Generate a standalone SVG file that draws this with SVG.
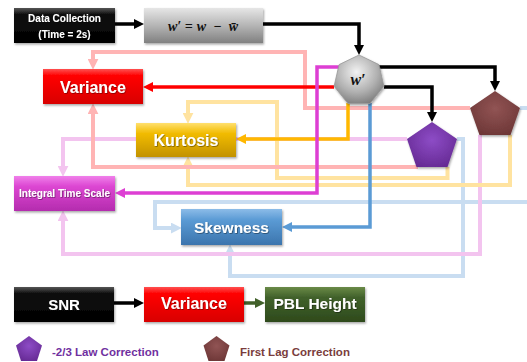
<svg xmlns="http://www.w3.org/2000/svg" width="527" height="362" viewBox="0 0 527 362">
<defs>
<style>
.lt{fill:none;stroke-width:4;stroke-linejoin:miter}
.mn{fill:none;stroke-width:3.5;stroke-linejoin:miter}
.bx{stroke:none;filter:url(#sh)}
.t{font-family:"Liberation Sans",Arial,sans-serif;font-weight:bold;fill:#fff;text-anchor:middle}
.big{font-size:16px}
.sm{font-size:10px}
.math{font-family:"Liberation Serif","DejaVu Serif",serif;font-style:italic;font-weight:bold;fill:#111;text-anchor:middle}
.lg{font-family:"Liberation Sans",Arial,sans-serif;font-weight:bold;font-size:11.5px}
</style>
<filter id="sh" x="-10%" y="-20%" width="125%" height="150%"><feDropShadow dx="1" dy="1.5" stdDeviation="1" flood-color="#000" flood-opacity="0.35"/></filter>
<filter id="ts" x="-10%" y="-20%" width="120%" height="150%"><feDropShadow dx="0.7" dy="0.7" stdDeviation="0.4" flood-color="#000" flood-opacity="0.5"/></filter>
<linearGradient id="gBlack" x1="0" y1="0" x2="0" y2="1"><stop offset="0" stop-color="#555"/><stop offset="0.18" stop-color="#111"/><stop offset="1" stop-color="#000"/></linearGradient>
<linearGradient id="gGray" x1="0" y1="0" x2="0" y2="1"><stop offset="0" stop-color="#e6e6e6"/><stop offset="0.5" stop-color="#b5b5b5"/><stop offset="1" stop-color="#808080"/></linearGradient>
<linearGradient id="gRed" x1="0" y1="0" x2="0" y2="1"><stop offset="0" stop-color="#ff5050"/><stop offset="0.2" stop-color="#ff0000"/><stop offset="1" stop-color="#d80000"/></linearGradient>
<linearGradient id="gGold" x1="0" y1="0" x2="0" y2="1"><stop offset="0" stop-color="#ffe070"/><stop offset="0.3" stop-color="#f2bc00"/><stop offset="1" stop-color="#c29200"/></linearGradient>
<linearGradient id="gMag" x1="0" y1="0" x2="0" y2="1"><stop offset="0" stop-color="#f080ea"/><stop offset="0.3" stop-color="#dc46d2"/><stop offset="1" stop-color="#b42cae"/></linearGradient>
<linearGradient id="gBlue" x1="0" y1="0" x2="0" y2="1"><stop offset="0" stop-color="#8cbce8"/><stop offset="0.3" stop-color="#5b9bd5"/><stop offset="1" stop-color="#3b75ad"/></linearGradient>
<linearGradient id="gGreen" x1="0" y1="0" x2="0" y2="1"><stop offset="0" stop-color="#6a8a48"/><stop offset="0.3" stop-color="#41612a"/><stop offset="1" stop-color="#2e4a1c"/></linearGradient>
<radialGradient id="gHept" cx="0.45" cy="0.35" r="0.7"><stop offset="0" stop-color="#f2f2f2"/><stop offset="0.6" stop-color="#b0b0b0"/><stop offset="1" stop-color="#7a7a7a"/></radialGradient>
<radialGradient id="gPur" cx="0.5" cy="0.4" r="0.7"><stop offset="0" stop-color="#8d4cc6"/><stop offset="1" stop-color="#62278f"/></radialGradient>
<radialGradient id="gBrn" cx="0.5" cy="0.4" r="0.7"><stop offset="0" stop-color="#915454"/><stop offset="1" stop-color="#6a3434"/></radialGradient>
<marker id="aK" viewBox="0 0 10 10" refX="2" refY="5" markerWidth="10" markerHeight="10" markerUnits="userSpaceOnUse" orient="auto"><path d="M0,0 L10,5 L0,10 z" fill="#000"/></marker>
<marker id="aR" viewBox="0 0 10 10" refX="2" refY="5" markerWidth="10" markerHeight="10" markerUnits="userSpaceOnUse" orient="auto"><path d="M0,0 L10,5 L0,10 z" fill="#ff0000"/></marker>
<marker id="aO" viewBox="0 0 10 10" refX="2" refY="5" markerWidth="10" markerHeight="10" markerUnits="userSpaceOnUse" orient="auto"><path d="M0,0 L10,5 L0,10 z" fill="#ffb800"/></marker>
<marker id="aM" viewBox="0 0 10 10" refX="2" refY="5" markerWidth="10" markerHeight="10" markerUnits="userSpaceOnUse" orient="auto"><path d="M0,0 L10,5 L0,10 z" fill="#dd3fd3"/></marker>
<marker id="aB" viewBox="0 0 10 10" refX="2" refY="5" markerWidth="10" markerHeight="10" markerUnits="userSpaceOnUse" orient="auto"><path d="M0,0 L10,5 L0,10 z" fill="#5b9bd5"/></marker>
<marker id="aG" viewBox="0 0 10 10" refX="2" refY="5" markerWidth="10" markerHeight="10" markerUnits="userSpaceOnUse" orient="auto"><path d="M0,0 L10,5 L0,10 z" fill="#41612a"/></marker>
<marker id="lR" viewBox="0 0 10 10" refX="2" refY="5" markerWidth="11" markerHeight="11" markerUnits="userSpaceOnUse" orient="auto"><path d="M0,0 L10,5 L0,10 z" fill="#ffb4b4"/></marker>
<marker id="lY" viewBox="0 0 10 10" refX="2" refY="5" markerWidth="11" markerHeight="11" markerUnits="userSpaceOnUse" orient="auto"><path d="M0,0 L10,5 L0,10 z" fill="#ffe3a0"/></marker>
<marker id="lM" viewBox="0 0 10 10" refX="2" refY="5" markerWidth="11" markerHeight="11" markerUnits="userSpaceOnUse" orient="auto"><path d="M0,0 L10,5 L0,10 z" fill="#f3c4ef"/></marker>
<marker id="lB" viewBox="0 0 10 10" refX="2" refY="5" markerWidth="11" markerHeight="11" markerUnits="userSpaceOnUse" orient="auto"><path d="M0,0 L10,5 L0,10 z" fill="#c9ddf1"/></marker>
</defs>
<rect width="527" height="362" fill="#fff"/>

<g id="connectors">
  <g id="feedback">
    <path class="lt" stroke="#c9ddf1" d="M520,108 H535 V202 H155 V228 H173" marker-end="url(#lB)"/>
    <path class="lt" stroke="#c9ddf1" d="M457,139 H463 V276 H230 V253" marker-end="url(#lB)"/>
    <path class="lt" stroke="#f3c4ef" d="M480,135 V254 H63 V219" marker-end="url(#lM)"/>
    <path class="lt" stroke="#f3c4ef" d="M407,139 H63 V168" marker-end="url(#lM)"/>
    <path class="lt" stroke="#ffe3a0" d="M510,135 V185 H188 V165" marker-end="url(#lY)"/>
    <path class="lt" stroke="#ffe3a0" d="M447.5,167 V178 H277 V102 H188 V115" marker-end="url(#lY)"/>
    <path class="lt" stroke="#ffb4b4" d="M418,167 H93 V112" marker-end="url(#lR)"/>
    <path class="lt" stroke="#ffb4b4" d="M470,108 H305 V52 H93 V61" marker-end="url(#lR)"/>
  </g>
  <g id="main">
    <path class="mn" stroke="#000" stroke-width="4" d="M115,24 H136" marker-end="url(#aK)"/>
    <path class="mn" stroke="#000" stroke-width="4" d="M263,24 H359 V47" marker-end="url(#aK)"/>
    <path class="mn" stroke="#000" stroke-width="4" d="M378,67 H495 V83" marker-end="url(#aK)"/>
    <path class="mn" stroke="#000" stroke-width="4" d="M384,87 H432 V114" marker-end="url(#aK)"/>
    <path class="mn" stroke="#ff0000" d="M334,87 H151" marker-end="url(#aR)"/>
    <path class="mn" stroke="#ffb800" d="M348,103 V139 H244" marker-end="url(#aO)"/>
    <path class="mn" stroke="#dd3fd3" d="M340,67 H317 V193 H123" marker-end="url(#aM)"/>
    <path class="mn" stroke="#5b9bd5" d="M370,103 V227 H290" marker-end="url(#aB)"/>
    <path class="mn" stroke="#000" stroke-width="4" d="M114,303 H136" marker-end="url(#aK)"/>
    <path class="mn" stroke="#41612a" stroke-width="4" d="M244,303 H257" marker-end="url(#aG)"/>
  </g>
</g>

<g id="node-data">
  <rect class="bx" x="14" y="8" width="101" height="35" fill="url(#gBlack)"/>
  <text class="t sm" x="64.5" y="21.5" filter="url(#ts)">Data Collection</text>
  <text class="t sm" x="64.5" y="37.5" filter="url(#ts)">(Time = 2s)</text>
</g>
<g id="node-fluct">
  <rect class="bx" x="144" y="8" width="119" height="35" fill="url(#gGray)"/>
  <text class="math" x="203" y="31" font-size="14">w′ =<tspan dx="4">w</tspan><tspan dx="7">−</tspan><tspan dx="7">w̄</tspan></text>
</g>
<g id="node-wprime">
  <polygon points="359,55 378.9,64.6 383.9,86.2 370.1,103.5 347.9,103.5 334.1,86.2 339.1,64.6" fill="url(#gHept)" stroke="#999" stroke-width="0.8" filter="url(#sh)"/>
  <text class="math" x="358" y="85" font-size="16">w′</text>
</g>
<g id="node-variance">
  <rect class="bx" x="43" y="69" width="100" height="35" fill="url(#gRed)"/>
  <text class="t big" x="93" y="92.5" filter="url(#ts)">Variance</text>
</g>
<g id="node-kurtosis">
  <rect class="bx" x="136" y="123" width="100" height="34" fill="url(#gGold)"/>
  <text class="t big" x="186" y="146" filter="url(#ts)">Kurtosis</text>
</g>
<g id="node-its">
  <rect class="bx" x="14" y="176" width="101" height="35" fill="url(#gMag)"/>
  <text class="t sm" x="64.5" y="197" filter="url(#ts)">Integral Time Scale</text>
</g>
<g id="node-skewness">
  <rect class="bx" x="181" y="209" width="101" height="36" fill="url(#gBlue)"/>
  <text class="t" font-size="15.5" x="231.5" y="232.5" filter="url(#ts)">Skewness</text>
</g>
<g id="node-lawcorr">
  <polygon points="432,122 457,139 447.5,167 416.5,167 407,139" fill="url(#gPur)" filter="url(#sh)"/>
</g>
<g id="node-lagcorr">
  <polygon points="495,91 520,108 510.5,135 479.5,135 470,108" fill="url(#gBrn)" filter="url(#sh)"/>
</g>
<g id="node-snr">
  <rect class="bx" x="14" y="287" width="100" height="35" fill="url(#gBlack)"/>
  <text class="t" font-size="15" x="64" y="310" filter="url(#ts)">SNR</text>
</g>
<g id="node-variance2">
  <rect class="bx" x="144" y="287" width="100" height="35" fill="url(#gRed)"/>
  <text class="t big" x="194" y="309" filter="url(#ts)">Variance</text>
</g>
<g id="node-pbl">
  <rect class="bx" x="265" y="287" width="100" height="35" fill="url(#gGreen)"/>
  <text class="t" font-size="15.5" x="315" y="309" filter="url(#ts)">PBL Height</text>
</g>
<g id="legend">
  <polygon points="29,336 42,345.5 37,361 21,361 16,345.5" fill="url(#gPur)"/>
  <text class="lg" x="52" y="356" fill="#7030a0">-2/3 Law Correction</text>
  <polygon points="216.5,336 229.5,345.5 224.5,361 208.5,361 203.5,345.5" fill="url(#gBrn)"/>
  <text class="lg" x="240" y="356" fill="#7a3d3d">First Lag Correction</text>
</g>
</svg>
